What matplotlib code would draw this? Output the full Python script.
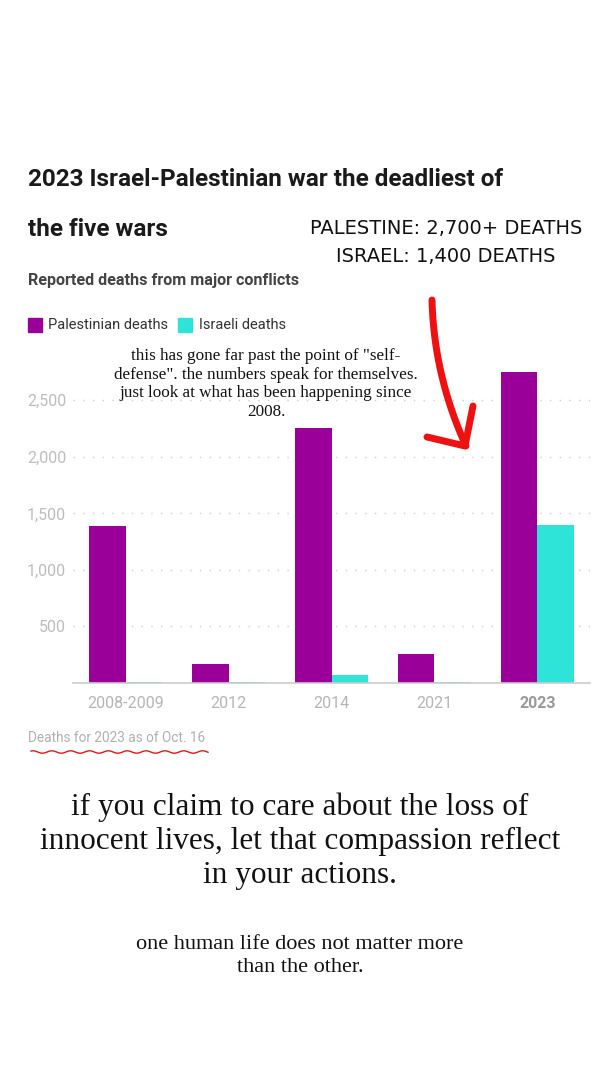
import matplotlib.pyplot as plt
import numpy as np
from matplotlib.lines import Line2D

# data
conflicts = ['2008-2009', '2012', '2014', '2021', '2023']
palestinian_deaths = [1385, 167, 2251, 256, 2750]
israeli_deaths = [13, 6, 73, 13, 1400]
yticks = [500, 1000, 1500, 2000, 2500]

W, H = 600, 1067
purple = '#9a0099'
cyan = '#2ee3d8'
grey = '#b5b5b5'
sans = ['Roboto', 'DejaVu Sans']
serif = ['Liberation Serif', 'DejaVu Serif']


def fx(x):
    return x / W


def fy(y):
    return 1 - y / H


fig = plt.figure(figsize=(6, 10.67), dpi=100)
fig.patch.set_facecolor('white')

ax = fig.add_axes([fx(73), fy(683), fx(590) - fx(73), (683 - 355) / H])
x = np.arange(len(conflicts))
w = 0.35
ax.bar(x - w / 2, palestinian_deaths, w, color=purple)
ax.bar(x + w / 2, israeli_deaths, w, color=cyan)
ax.set_xlim(-0.51, 4.51)
ax.set_ylim(0, 2900)

for s in ['top', 'right', 'left']:
    ax.spines[s].set_visible(False)
ax.spines['bottom'].set_color('#cccccc')
ax.spines['bottom'].set_linewidth(1.2)

ax.set_yticks(yticks)
ax.set_yticklabels([f'{v:,}' for v in yticks], family=sans, fontsize=11.5,
                   color='#bdbdbd')
ax.yaxis.grid(True, linestyle=(0, (1, 6)), color='#cfcfcf', linewidth=1)
ax.set_axisbelow(True)
ax.tick_params(axis='y', length=0, pad=5)
ax.tick_params(axis='x', length=0, pad=9)
ax.set_xticks(x)
ax.set_xticklabels(conflicts, family=sans, fontsize=11.5, color=grey)
lbls = ax.get_xticklabels()
lbls[-1].set_fontweight('bold')
lbls[-1].set_color('#9a9a9a')

# titles
fig.text(fx(28), fy(180), '2023 Israel-Palestinian war the deadliest of', family=sans,
         fontsize=17.5, fontweight='bold', color='#1a1a1a', va='center')
fig.text(fx(28), fy(229), 'the five wars', family=sans,
         fontsize=17.5, fontweight='bold', color='#1a1a1a', va='center')
fig.text(fx(28), fy(281), 'Reported deaths from major conflicts', family=sans,
         fontsize=11.6, fontweight='bold', color='#444444', va='center')

# legend
fig.patches.append(plt.Rectangle((fx(28), fy(332)), 14 / W, 14 / H, color=purple,
                                 transform=fig.transFigure))
fig.text(fx(48), fy(325), 'Palestinian deaths', family=sans, fontsize=10.5,
         color='#333333', va='center')
fig.patches.append(plt.Rectangle((fx(178), fy(332)), 14 / W, 14 / H, color=cyan,
                                 transform=fig.transFigure))
fig.text(fx(199), fy(325), 'Israeli deaths', family=sans, fontsize=10.5,
         color='#333333', va='center')

# overlay text
fig.text(fx(446), fy(229), 'PALESTINE: 2,700+ DEATHS', family='DejaVu Sans',
         fontsize=14, color='#111111', ha='center', va='center')
fig.text(fx(446), fy(256), 'ISRAEL: 1,400 DEATHS', family='DejaVu Sans',
         fontsize=14, color='#111111', ha='center', va='center')

note = ('this has gone far past the point of "self-\n'
        'defense". the numbers speak for themselves.\n'
        'just look at what has been happening since\n'
        '2008.')
fig.text(fx(266), fy(384), note, family=serif, fontsize=12.3,
         color='#111111', ha='center', va='center', linespacing=1.2)

# red hand-drawn arrow
t = np.linspace(0, 1, 40)
ax_x = 432 + 4 * t + 30 * t ** 2
ax_y = 300 + 152 * t - 6 * t ** 2
fig.add_artist(Line2D(fx(ax_x), fy(ax_y), color='#ee1111', lw=5,
                      solid_capstyle='round', transform=fig.transFigure))
fig.add_artist(Line2D([fx(427), fx(465), fx(473)], [fy(437), fy(446), fy(406)],
                      color='#ee1111', lw=5, solid_capstyle='round',
                      solid_joinstyle='round', transform=fig.transFigure))

# footnote with squiggly underline
fig.text(fx(28), fy(738), 'Deaths for 2023 as of Oct. 16', family=sans,
         fontsize=9.8, color='#b0b0b0', va='center')
sx = np.linspace(31, 208, 120)
sy = 752 + 1.2 * np.sin(sx / 3.0)
fig.add_artist(Line2D(fx(sx), fy(sy), color='#e01818', lw=1,
                      transform=fig.transFigure))

fig.text(0.5, fy(841), 'if you claim to care about the loss of\n'
         'innocent lives, let that compassion reflect\n'
         'in your actions.', family=serif, fontsize=22.5,
         color='#111111', ha='center', va='center', linespacing=1.22)
fig.text(0.5, fy(956), 'one human life does not matter more\nthan the other.',
         family=serif, fontsize=16, color='#111111',
         ha='center', va='center', linespacing=1.25)

fig.savefig('out.png', dpi=100, facecolor='white')
